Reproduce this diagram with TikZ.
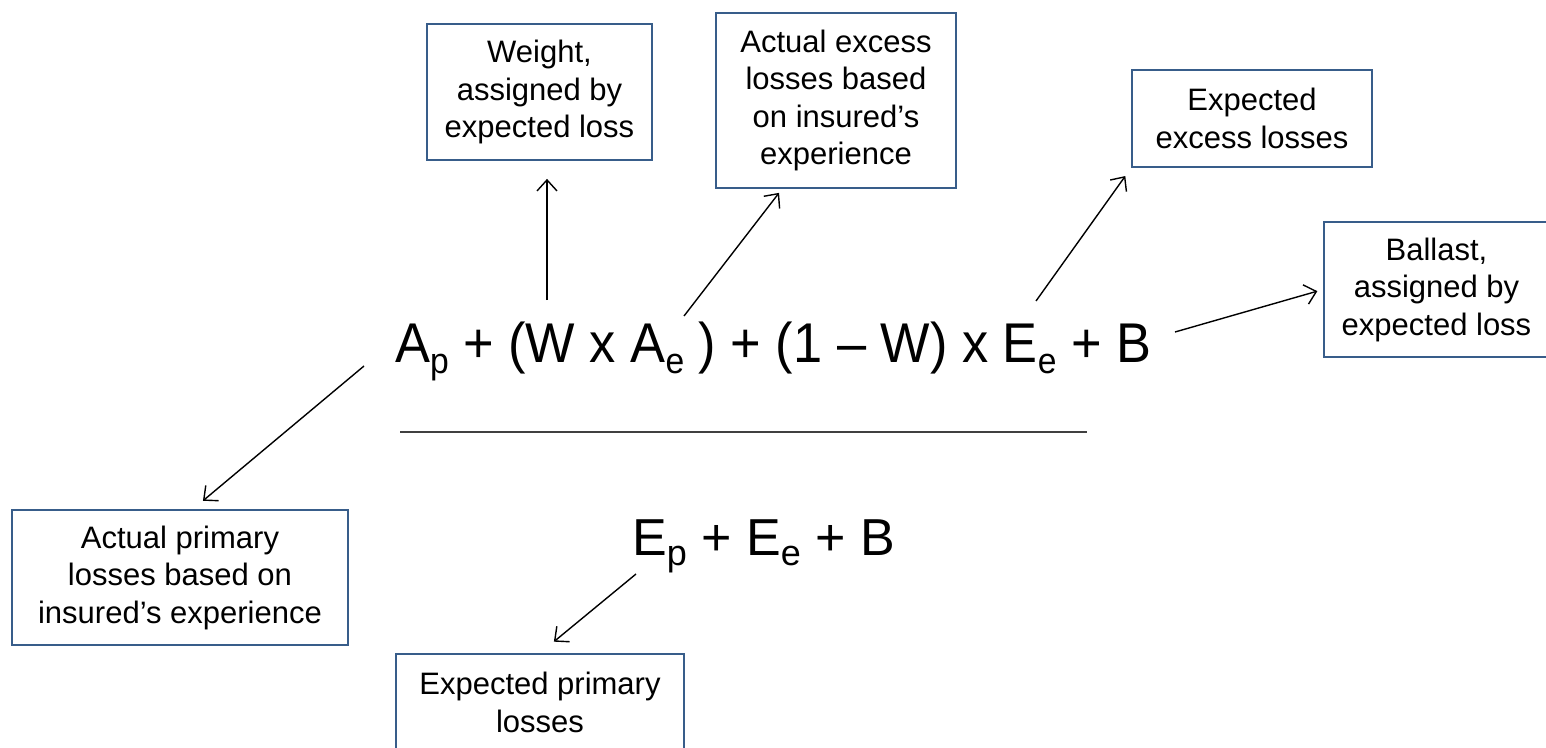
\documentclass[tikz,border=0pt]{standalone}
\usepackage{fontspec}
\setmainfont{Liberation Sans}
\newfontfamily\formfont[FakeStretch=0.935]{Liberation Sans}
\usetikzlibrary{arrows.meta}
\definecolor{boxblue}{RGB}{56,93,138}
\newcommand{\sub}[1]{\raisebox{-0.2em}{\fontsize{36}{36}\selectfont #1}}
\tikzset{
  infobox/.style={draw=boxblue, line width=1.8pt, align=center, inner sep=0pt,
    font=\fontsize{31}{37.5}\selectfont},
  pointer/.style={-{Straight Barb[length=11pt,width=20pt]}, line width=1.4pt},
  formula/.style={font=\fontsize{52}{60}\selectfont, inner sep=0pt, anchor=base west}
}

\begin{document}
\begin{tikzpicture}[x=1pt, y=-1pt]
\useasboundingbox (0,0) rectangle (1546,747);
% Formula, numerator over denominator
\node[formula, font=\formfont\fontsize{56}{60}\selectfont] (numer) at (395,362) {A\sub{p} + (W x A\sub{e} ) + (1 – W) x E\sub{e} + B};
\draw[line width=2.2pt, black!75] (400,432) -- (1087,432);
\node[formula] (denom) at (632,555) {E\sub{p} + E\sub{e} + B};
% Boxes explaining the terms
\node[infobox, minimum width=225, minimum height=136] (weight) at (539.5,92) {Weight,\\assigned by\\expected loss};
\node[infobox, minimum width=240, minimum height=175] (actexc) at (836,100.5) {Actual excess\\losses based\\on insured’s\\experience};
\node[infobox, minimum width=240, minimum height=97] (expexc) at (1252,118.5) {Expected\\excess losses};
\node[infobox, minimum width=225, minimum height=135] (ballast) at (1436.5,289.5) {Ballast,\\assigned by\\expected loss};
\node[infobox, minimum width=336, minimum height=135] (actprim) at (180,577.5) {Actual primary\\losses based on\\insured’s experience};
\node[infobox, minimum width=288, minimum height=97] (expprim) at (540,702.5) {Expected primary\\losses};
% Arrow starts next to the terms
\coordinate (wsrc) at (547,300);
\coordinate (aesrc) at (684,316);
\coordinate (eesrc) at (1036,301);
\coordinate (bsrc) at (1175,332);
\coordinate (apsrc) at (364,366);
\coordinate (epsrc) at (636,574);
% Arrows to the boxes
\draw[pointer, shorten >=18pt] (wsrc) -- (wsrc |- weight.south);
\draw[pointer, shorten >=5pt] (aesrc) -- ([xshift=67pt]actexc.south west);
\draw[pointer, shorten >=10pt] (eesrc) -- (expexc.south west);
\draw[pointer, shorten >=6pt] (bsrc) -- (ballast.west);
\draw[pointer, shorten >=13pt] (apsrc) -- ([xshift=13pt]actprim.north);
\draw[pointer, shorten >=18pt] (epsrc) -- (expprim.north);
\end{tikzpicture}
\end{document}
